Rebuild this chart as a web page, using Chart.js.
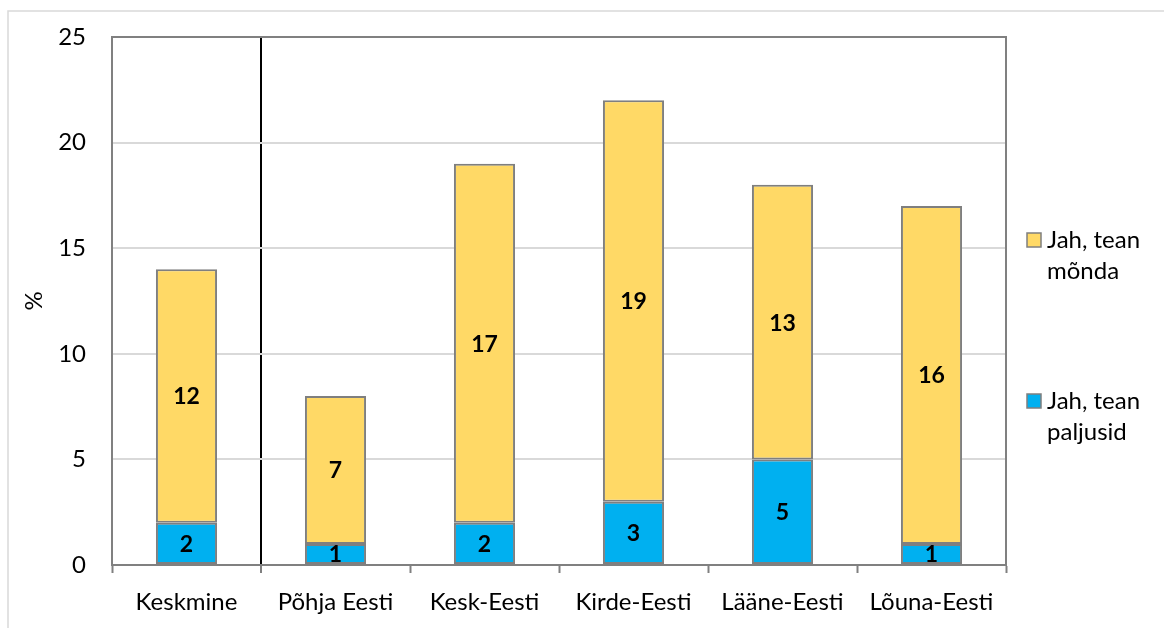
<!DOCTYPE html>
<html>
<head>
<meta charset="utf-8">
<script src="https://cdn.jsdelivr.net/npm/chart.js@4/dist/chart.umd.min.js"></script>
<style>
  html, body { margin: 0; padding: 0; background: #fff; }
  #wrap { width: 1164px; height: 628px; }
</style>
</head>
<body>
<div id="wrap"><canvas id="myChart"></canvas></div>
<script>
let regions = ['Keskmine', 'Põhja Eesti', 'Kesk-Eesti', 'Kirde-Eesti', 'Lääne-Eesti', 'Lõuna-Eesti'];
let paljusid = [2, 1, 2, 3, 5, 1];        // Jah, tean paljusid (blue, bottom)
let monda = [12, 7, 17, 19, 13, 16];      // Jah, tean mõnda (yellow, top)
let legendLabels = [['Jah, tean', 'mõnda'], ['Jah, tean', 'paljusid']];

const FONT = 'Lato, "Open Sans", sans-serif';

// values written in the middle of every segment
const valueLabels = {
  id: 'valueLabels',
  afterDatasetsDraw(chart) {
    const ctx = chart.ctx;
    ctx.save();
    ctx.font = 'bold 23px ' + FONT;
    ctx.fillStyle = '#000';
    ctx.textAlign = 'center';
    ctx.textBaseline = 'middle';
    chart.data.datasets.forEach((ds, i) => {
      chart.getDatasetMeta(i).data.forEach((bar, j) => {
        const mid = (bar.y + bar.base) / 2;
        ctx.fillText(ds.data[j], bar.x, mid + 1);
      });
    });
    ctx.restore();
  }
};

// plot frame, outer frame and the two-line legend on the right
const frame = {
  id: 'frame',
  beforeDraw(chart) {
    const ctx = chart.ctx;
    ctx.save();
    ctx.strokeStyle = '#d9d9d9';
    ctx.lineWidth = 1.5;
    ctx.strokeRect(8, 11, 1200, 700);
    ctx.restore();
  },
  afterDatasetsDraw(chart) {
    const a = chart.chartArea;
    const ctx = chart.ctx;
    ctx.save();
    ctx.strokeStyle = '#808080';
    ctx.lineWidth = 2;
    ctx.strokeRect(a.left, a.top, a.right - a.left, a.bottom - a.top);
    ctx.restore();
  },
  afterDraw(chart) {
    const ctx = chart.ctx;
    const colors = ['#FFD966', '#00B0F0'];
    const tops = [240, 401];
    ctx.save();
    ctx.font = '24px ' + FONT;
    ctx.textBaseline = 'middle';
    ctx.textAlign = 'left';
    legendLabels.forEach((lines, i) => {
      ctx.fillStyle = colors[i];
      ctx.fillRect(1027, tops[i] - 7, 14, 14);
      ctx.strokeStyle = '#7f7f7f';
      ctx.lineWidth = 1.5;
      ctx.strokeRect(1027, tops[i] - 7, 14, 14);
      ctx.fillStyle = '#000';
      lines.forEach((t, k) => ctx.fillText(t, 1047, tops[i] + k * 31));
    });
    ctx.restore();
  }
};

new Chart(document.getElementById('myChart'), {
  type: 'bar',
  data: {
    labels: regions,
    datasets: [
      {
        label: 'Jah, tean paljusid',
        data: paljusid,
        backgroundColor: '#00B0F0',
        borderColor: '#7f7f7f',
        borderWidth: 2,
        borderSkipped: false,
        barPercentage: 0.41,
        categoryPercentage: 1
      },
      {
        label: 'Jah, tean mõnda',
        data: monda,
        backgroundColor: '#FFD966',
        borderColor: '#7f7f7f',
        borderWidth: 2,
        borderSkipped: false,
        barPercentage: 0.41,
        categoryPercentage: 1
      }
    ]
  },
  options: {
    responsive: true,
    maintainAspectRatio: false,
    animation: false,
    layout: { padding: { top: 37, right: 158, left: 0, bottom: 0 } },
    plugins: {
      legend: { display: false },
      tooltip: { enabled: false }
    },
    scales: {
      x: {
        stacked: true,
        afterFit: (s) => { s.height = 63; },
        grid: {
          offset: true,
          drawOnChartArea: true,
          color: (c) => c.index === 1 ? '#000' : 'rgba(0,0,0,0)',
          lineWidth: (c) => c.index === 1 ? 2 : 1,
          tickColor: '#808080',
          tickWidth: 2,
          tickLength: 8
        },
        border: { color: '#808080', width: 2 },
        ticks: { color: '#000', font: { family: FONT, size: 24 }, padding: 15 }
      },
      y: {
        stacked: true,
        min: 0,
        max: 25,
        afterFit: (s) => { s.width = 112; s.paddingTop = 0; s.paddingBottom = 0; },
        grid: { color: '#d9d9d9', lineWidth: 2, drawTicks: false },
        border: { color: '#808080', width: 2 },
        ticks: { stepSize: 5, color: '#000', font: { family: FONT, size: 24, lineHeight: 1 }, padding: 26 },
        title: { display: true, text: '%', color: '#000', font: { family: FONT, size: 24 }, padding: { top: 20, bottom: 0 } }
      }
    }
  },
  plugins: [valueLabels, frame]
});
</script>
</body>
</html>
